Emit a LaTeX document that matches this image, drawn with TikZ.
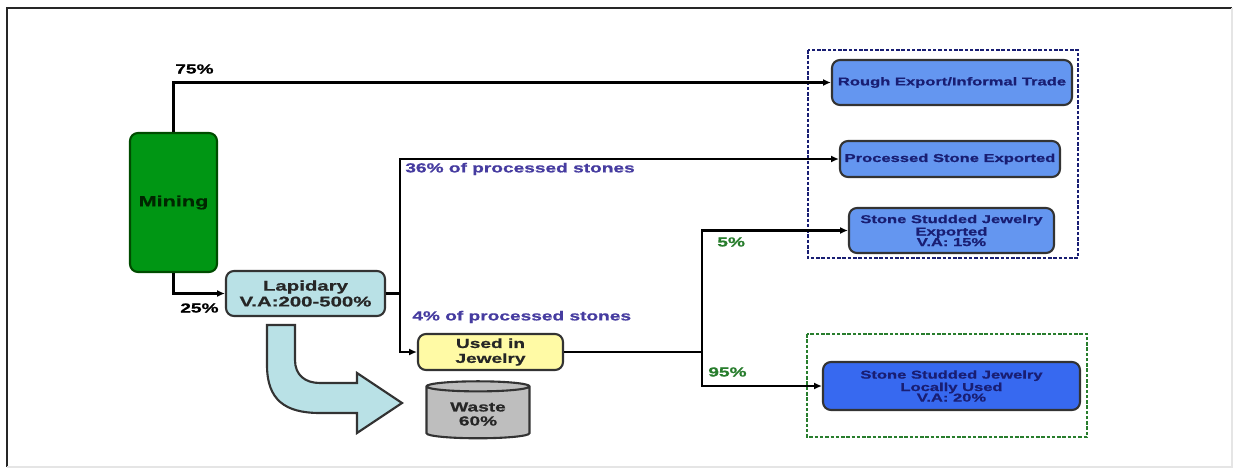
\documentclass[tikz,border=0pt]{standalone}
\usepackage{fontspec}
\setmainfont{Liberation Sans}[FakeStretch=1.45, BoldFeatures={FakeBold=0.8}]
\usetikzlibrary{arrows.meta,shapes.geometric}

\definecolor{minegreen}{RGB}{0,150,20}
\definecolor{lapcyan}{RGB}{185,225,230}
\definecolor{jewyellow}{RGB}{255,250,165}
\definecolor{exportblue}{RGB}{100,150,240}
\definecolor{localblue}{RGB}{55,105,240}
\definecolor{navy}{RGB}{25,30,115}
\definecolor{sharegreen}{RGB}{40,125,45}
\definecolor{shareblue}{RGB}{70,60,160}
\definecolor{wastegray}{RGB}{190,190,190}

\tikzset{
  stage/.style={draw=black!80, line width=1.2pt, rounded corners=4.5pt, align=center, inner sep=1pt},
  exportbox/.style={stage, fill=exportblue, text=navy, font=\bfseries\fontsize{6.5}{6}\selectfont},
  flow/.style={line width=1.3pt, -{Latex[length=4.5pt,width=4pt]}},
  share/.style={font=\bfseries\fontsize{7.5}{8}\selectfont, anchor=west, inner sep=0pt}
}

\begin{document}
\begin{tikzpicture}[x=0.02cm, y=-0.02cm]
    \useasboundingbox (0,0) rectangle (1235,471);

    % Frame
    \draw[black!85, line width=1.2pt] (7,467) -- (7,8) -- (1232,8);
    \draw[black!10, line width=0.6pt] (1232,8) -- (1232,467) -- (7,467);

    % Groups
    \draw[navy, line width=1.2pt, dash pattern=on 2pt off 1pt] (808,50) rectangle (1078,258);
    \draw[sharegreen, line width=1.2pt, dash pattern=on 2pt off 1pt] (807,334) rectangle (1087,437);

    % Stages
    \node[stage, fill=minegreen, draw=black!70!green, text=black!85!green, minimum width=1.74cm, minimum height=2.78cm, font=\bfseries\fontsize{8.5}{9}\selectfont] (mining) at (173.5,202.5) {Mining};
    \node[stage, fill=lapcyan, text=black!85, minimum width=3.18cm, minimum height=0.9cm, font=\bfseries\fontsize{8}{9}\selectfont] (lapidary) at (305.5,293.5) {Lapidary\\V.A:200-500\%};
    \node[stage, fill=jewyellow, text=black!85, minimum width=2.9cm, minimum height=0.72cm, font=\bfseries\fontsize{7.5}{8.5}\selectfont] (jewelry) at (490.5,352) {Used in\\Jewelry};
    \node[cylinder, shape border rotate=90, aspect=0.15, draw=black!80, line width=1.2pt, fill=wastegray, text=black!85, minimum width=2.06cm, minimum height=1.14cm, align=center, font=\bfseries\fontsize{7.5}{8}\selectfont] (waste) at (478,414) {Waste\\60\%};

    \node[exportbox, minimum width=4.8cm, minimum height=0.9cm] (rough) at (952,82.5) {Rough Export/Informal Trade};
    \node[exportbox, minimum width=4.4cm, minimum height=0.72cm] (procexp) at (950,159) {Processed Stone Exported};
    \node[exportbox, minimum width=4.1cm, minimum height=0.9cm] (jewexp) at (951.5,230.5) {Stone Studded Jewelry\\Exported\\V.A: 15\%};
    \node[exportbox, fill=localblue, minimum width=5.14cm, minimum height=0.96cm] (jewlocal) at (951.5,386) {Stone Studded Jewelry\\Locally Used\\V.A: 20\%};

    % Waste arrow
    \draw[black!80, line width=1.2pt, fill=lapcyan] (267,325) -- (267,365) .. controls (267,400) and (285,413) .. (320,413) -- (357,413) -- (357,433) -- (402,403) -- (357,373) -- (357,383) -- (320,383) .. controls (305,383) and (295,375) .. (295,360) -- (295,325) -- cycle;

    % Splits
    \coordinate (cut) at (400,293.5);
    \coordinate (fork) at (702,352);

    % Flows
    \draw[flow] (mining.north) |- (rough.west);
    \draw[flow] (mining.south) |- (lapidary.west);
    \draw[line width=1.3pt] (lapidary.east) -- (cut);
    \draw[flow] (cut) |- (procexp.west);
    \draw[flow] (cut) |- (jewelry.west);
    \draw[line width=1.3pt] (jewelry.east) -- (fork);
    \draw[flow] (fork) |- (jewexp.west);
    \draw[flow] (fork) |- (jewlocal.west);

    % Shares
    \node[share] (p75) at (175,69) {75\%};
    \node[share] (p25) at (180,308) {25\%};
    \node[share, text=shareblue] (p36) at (405,169) {36\% of processed stones};
    \node[share, text=shareblue] (p4) at (412,317) {4\% of processed stones};
    \node[share, text=sharegreen] (p5) at (717,242) {5\%};
    \node[share, text=sharegreen] (p95) at (708,372) {95\%};
\end{tikzpicture}
\end{document}
